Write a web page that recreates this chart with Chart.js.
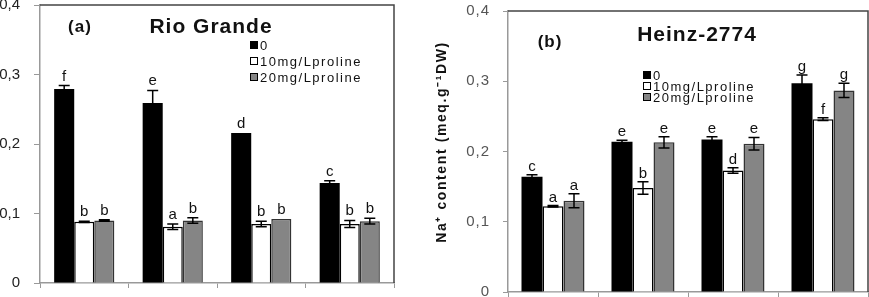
<!DOCTYPE html>
<html>
<head>
<meta charset="utf-8">
<script src="https://cdn.jsdelivr.net/npm/chart.js@4.4.2/dist/chart.umd.min.js"></script>
<style>
  html, body { margin: 0; padding: 0; background: #fff; }
  #wrap { position: relative; width: 869px; height: 297px; overflow: hidden; }
  canvas { position: absolute; top: 0; }
  #rioChart { left: 0; }
  #heinzChart { left: 420px; }
</style>
</head>
<body>
<div id="wrap">
  <canvas id="rioChart" width="400" height="297"></canvas>
  <canvas id="heinzChart" width="449" height="297"></canvas>
</div>
<script>
const CATEGORIES = ['1', '2', '3', '4'];
const SERIES_NAMES = ['0', '10mg/Lproline', '20mg/Lproline'];
const Y_TICK_LABELS = ['0', '0,1', '0,2', '0,3', '0,4'];
const Y_TITLE = 'Na\u207A content (meq.g\u207B\u00B9DW)';

// (a) Rio Grande
const RIO_0 = [0.279, 0.259, 0.216, 0.144];
const RIO_10 = [0.088, 0.081, 0.085, 0.085];
const RIO_20 = [0.090, 0.090, 0.092, 0.089];
const RIO_0_ERR = [0.005, 0.018, 0, 0.003];
const RIO_10_ERR = [0.001, 0.004, 0.004, 0.005];
const RIO_20_ERR = [0.001, 0.004, 0, 0.004];
const RIO_0_LETTERS = ['f', 'e', 'd', 'c'];
const RIO_10_LETTERS = ['b', 'a', 'b', 'b'];
const RIO_20_LETTERS = ['b', 'b', 'b', 'b'];

// (b) Heinz-2774
const HEINZ_0 = [0.164, 0.214, 0.217, 0.297];
const HEINZ_10 = [0.122, 0.148, 0.173, 0.246];
const HEINZ_20 = [0.130, 0.213, 0.211, 0.287];
const HEINZ_0_ERR = [0.003, 0.002, 0.004, 0.012];
const HEINZ_10_ERR = [0.001, 0.009, 0.004, 0.002];
const HEINZ_20_ERR = [0.010, 0.008, 0.009, 0.010];
const HEINZ_0_LETTERS = ['c', 'e', 'e', 'g'];
const HEINZ_10_LETTERS = ['a', 'b', 'd', 'f'];
const HEINZ_20_LETTERS = ['a', 'e', 'e', 'g'];

const FONT = '"Liberation Sans", Arial, sans-serif';
const BAR_FILL = ['#000000', '#ffffff', '#858585'];
const BAR_EDGE = ['#000000', '#000000', '#333333'];

Chart.defaults.font.family = FONT;

// error bars + significance letters above each bar
const errorBarsPlugin = {
  id: 'errorBars',
  afterDatasetsDraw(chart, args, opts) {
    const { ctx } = chart;
    const y = chart.scales.y;
    ctx.save();
    ctx.letterSpacing = '0px';
    chart.data.datasets.forEach((ds, di) => {
      const meta = chart.getDatasetMeta(di);
      meta.data.forEach((bar, i) => {
        const v = ds.data[i];
        const e = opts.errors[di][i];
        const yTop = y.getPixelForValue(v + e);
        const yBot = y.getPixelForValue(v - e);
        if (e > 0) {
          ctx.strokeStyle = '#000';
          ctx.lineWidth = 1.5;
          ctx.beginPath();
          ctx.moveTo(bar.x, yTop);
          ctx.lineTo(bar.x, yBot);
          ctx.moveTo(bar.x - 5.5, yTop);
          ctx.lineTo(bar.x + 5.5, yTop);
          ctx.moveTo(bar.x - 5.5, yBot);
          ctx.lineTo(bar.x + 5.5, yBot);
          ctx.stroke();
        }
        ctx.fillStyle = '#111';
        ctx.font = '15px ' + FONT;
        ctx.textAlign = 'center';
        ctx.textBaseline = 'alphabetic';
        ctx.fillText(opts.letters[di][i], bar.x, yTop - opts.gap);
      });
    });
    ctx.restore();
  }
};

// top/right frame, panel titles, y title and the inset legend
const panelPlugin = {
  id: 'panel',
  beforeDraw(chart, args, opts) {
    chart.ctx.letterSpacing = opts.tickSpacing || '0px';
  },
  afterDraw(chart, args, opts) {
    const { ctx, chartArea: a } = chart;
    ctx.save();
    ctx.letterSpacing = '0px';
    ctx.strokeStyle = '#444';
    ctx.lineWidth = 1.5;
    ctx.beginPath();
    ctx.moveTo(a.left, a.top);
    ctx.lineTo(a.right, a.top);
    ctx.lineTo(a.right, a.bottom);
    ctx.stroke();

    ctx.fillStyle = '#111';
    ctx.textBaseline = 'middle';
    ctx.textAlign = 'center';
    ctx.letterSpacing = '1px';
    opts.titles.forEach(t => {
      ctx.font = 'bold ' + t.size + 'px ' + FONT;
      ctx.fillText(t.text, a.left + t.dx, a.top + t.dy);
    });

    if (opts.yLabel) {
      ctx.save();
      ctx.translate(a.left + opts.yLabel.dx, a.top + opts.yLabel.dy);
      ctx.rotate(-Math.PI / 2);
      ctx.font = 'bold 14px ' + FONT;
      ctx.letterSpacing = '1.6px';
      ctx.fillText(opts.yLabel.text, 0, 0);
      ctx.restore();
    }

    ctx.textAlign = 'left';
    ctx.font = '13px ' + FONT;
    ctx.letterSpacing = '1.5px';
    const lx = a.left + opts.legend.dx;
    chart.data.datasets.forEach((ds, i) => {
      const ly = a.top + opts.legend.dy + i * opts.legend.row;
      ctx.fillStyle = ds.backgroundColor;
      ctx.fillRect(lx, ly - 4, 8, 8);
      ctx.strokeStyle = '#000';
      ctx.lineWidth = 1;
      ctx.strokeRect(lx + 0.5, ly - 3.5, 7, 7);
      ctx.fillStyle = '#111';
      ctx.fillText(ds.label, lx + 10, ly + 1);
    });
    ctx.restore();
  }
};

function buildChart(canvasId, series, errors, letters, cfg) {
  return new Chart(document.getElementById(canvasId), {
    type: 'bar',
    data: {
      labels: CATEGORIES,
      datasets: series.map((values, i) => ({
        label: SERIES_NAMES[i],
        data: values,
        backgroundColor: BAR_FILL[i],
        borderColor: BAR_EDGE[i],
        borderWidth: i === 0 ? 0 : 1.5,
        categoryPercentage: cfg.catPct,
        barPercentage: 1.0
      }))
    },
    options: {
      responsive: false,
      animation: false,
      devicePixelRatio: 1,
      layout: { padding: cfg.padding },
      plugins: {
        legend: { display: false },
        tooltip: { enabled: false },
        errorBars: { errors: errors, letters: letters, gap: cfg.letterGap },
        panel: { titles: cfg.titles, legend: cfg.legend, tickSpacing: cfg.tickSpacing, yLabel: cfg.yLabel }
      },
      scales: {
        x: {
          ticks: { display: false },
          grid: { drawOnChartArea: false, drawTicks: true, tickLength: 5, color: '#999', offset: true },
          border: { color: '#999', width: 1.5 },
          afterFit: s => { s.height = cfg.xHeight; }
        },
        y: {
          min: 0,
          max: 0.4,
          ticks: {
            stepSize: 0.1,
            padding: cfg.tickPad,
            color: cfg.tickColor,
            font: { size: 15 },
            callback: (v, i) => Y_TICK_LABELS[i]
          },
          grid: { drawOnChartArea: false, drawTicks: true, tickLength: cfg.tickLen, color: '#999' },
          border: { color: '#999', width: 1.5 },
          afterFit: s => {
            s.width = cfg.yWidth;
            // tick padding should not push the plot area in
            s.paddingTop = 0;
            s.paddingBottom = 0;
          }
        }
      }
    },
    plugins: [errorBarsPlugin, panelPlugin]
  });
}

buildChart('rioChart',
  [RIO_0, RIO_10, RIO_20],
  [RIO_0_ERR, RIO_10_ERR, RIO_20_ERR],
  [RIO_0_LETTERS, RIO_10_LETTERS, RIO_20_LETTERS],
  {
    catPct: 0.68,
    padding: { top: 5, right: 6, bottom: 0, left: 0 },
    xHeight: 14,
    yWidth: 40,
    tickLen: 6,
    tickPad: 14,
    tickColor: '#222',
    tickSpacing: '0px',
    letterGap: 5,
    yLabel: null,
    titles: [
      { text: '(a)', size: 17, dx: 40, dy: 22 },
      { text: 'Rio Grande', size: 21, dx: 171, dy: 22 }
    ],
    legend: { dx: 210, dy: 40, row: 16 }
  });

buildChart('heinzChart',
  [HEINZ_0, HEINZ_10, HEINZ_20],
  [HEINZ_0_ERR, HEINZ_10_ERR, HEINZ_20_ERR],
  [HEINZ_0_LETTERS, HEINZ_10_LETTERS, HEINZ_20_LETTERS],
  {
    catPct: 0.70,
    padding: { top: 11, right: 1, bottom: 0, left: 0 },
    xHeight: 5,
    yWidth: 88,
    tickLen: 5,
    tickPad: 13,
    tickColor: '#555',
    tickSpacing: '1px',
    letterGap: 4,
    yLabel: { text: Y_TITLE, dx: -66, dy: 131 },
    titles: [
      { text: '(b)', size: 17, dx: 42, dy: 31 },
      { text: 'Heinz-2774', size: 21, dx: 189, dy: 24 }
    ],
    legend: { dx: 135, dy: 64, row: 11 }
  });
</script>
</body>
</html>
